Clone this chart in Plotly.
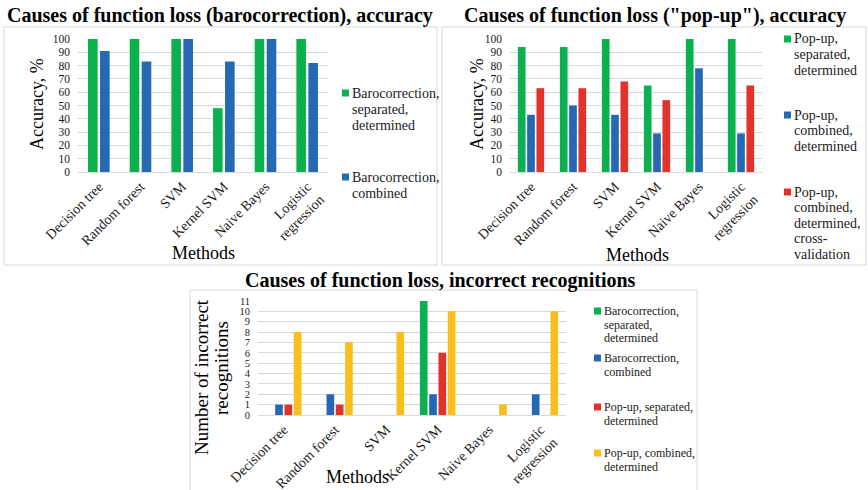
import plotly.graph_objects as go

W, H = 868, 490

# ---- data ----
methods = ["Decision tree", "Random forest", "SVM", "Kernel SVM",
           "Naive Bayes", "Logistic<br>regression"]

baro_sep_acc = [100, 100, 100, 48, 100, 100]
baro_comb_acc = [91, 83, 100, 83, 100, 82]

pop_sep_acc = [94, 94, 100, 65, 100, 100]
pop_comb_acc = [43, 50, 43, 29, 78, 29]
pop_cv_acc = [63, 63, 68, 54, None, 65]

baro_sep_err = [0, 0, 0, 11, 0, 0]
baro_comb_err = [1, 2, 0, 2, 0, 2]
pop_sep_err = [1, 1, 0, 6, 0, 0]
pop_comb_err = [8, 7, 8, 10, 1, 10]

acc_ticks = list(range(0, 101, 10))
err_ticks = list(range(0, 12))

titles = ["Causes of function loss (barocorrection), accuracy",
          "Causes of function loss (\"pop-up\"), accuracy",
          "Causes of function loss, incorrect recognitions"]

legend_tl = [["Barocorrection,", "separated,", "determined"],
             ["Barocorrection,", "combined"]]
legend_tr = [["Pop-up,", "separated,", "determined"],
             ["Pop-up,", "combined,", "determined"],
             ["Pop-up,", "combined,", "determined,", "cross-", "validation"]]
legend_bt = [["Barocorrection,", "separated,", "determined"],
             ["Barocorrection,", "combined"],
             ["Pop-up, separated,", "determined"],
             ["Pop-up, combined,", "determined"]]

# ---- style ----
GREEN = "#0BB14E"
BLUE = "#2469B2"
RED = "#E2322A"
YELLOW = "#FCBE1C"
GRID = "#D9D9D9"
FONT = "Liberation Serif"
TXT = "#1a1a1a"


def px(x):
    return x / W


def py(y):
    return 1 - y / H


fig = go.Figure()
shapes = []
annotations = []


def add_bars(series, colors, xa, ya, cat_px, slot_px, bar_px):
    n = len(series)
    s = slot_px / cat_px
    w = bar_px / cat_px
    for i, (vals, col) in enumerate(zip(series, colors)):
        off = -n * s / 2 + i * s + (s - w) / 2
        fig.add_trace(go.Bar(
            x=methods, y=vals, width=w, offset=off,
            marker=dict(color=col, line=dict(width=0)),
            xaxis=xa, yaxis=ya, showlegend=False,
        ))


def legend_entry(x_sq, y_c, lines, fs, color, lh):
    shapes.append(dict(type="rect", xref="paper", yref="paper",
                       x0=px(x_sq), x1=px(x_sq + 7),
                       y0=py(y_c + 3.5), y1=py(y_c - 3.5),
                       fillcolor=color, line=dict(width=0)))
    for k, line in enumerate(lines):
        annotations.append(dict(
            text=line, xref="paper", yref="paper",
            x=px(x_sq + 8), y=py(y_c + k * lh),
            xanchor="left", yanchor="middle", showarrow=False,
            font=dict(family=FONT, size=fs, color=TXT)))


def text(x, y, s, fs, bold=False, angle=0):
    annotations.append(dict(
        text=f"<b>{s}</b>" if bold else s, xref="paper", yref="paper",
        x=px(x), y=py(y), xanchor="center", yanchor="middle",
        showarrow=False, textangle=angle,
        font=dict(family=FONT, size=fs, color="#000")))


def box(x0, y0, x1, y1):
    shapes.append(dict(type="rect", xref="paper", yref="paper",
                       x0=px(x0), x1=px(x1), y0=py(y1), y1=py(y0),
                       line=dict(color=GRID, width=1), fillcolor="rgba(0,0,0,0)",
                       layer="below"))


# panel frames
box(4, 27, 437, 265)
box(442, 27, 866, 265)
box(190, 290, 697, 495)

# bars
add_bars([baro_sep_acc, baro_comb_acc], [GREEN, BLUE], "x", "y",
         250 / 6, 12, 9.6)
add_bars([pop_sep_acc, pop_comb_acc, pop_cv_acc], [GREEN, BLUE, RED], "x2", "y2",
         252 / 6, 9.3, 7.7)
add_bars([baro_sep_err, baro_comb_err, pop_sep_err, pop_comb_err],
         [GREEN, BLUE, RED, YELLOW], "x3", "y3", 308 / 6, 9.3, 7.7)


def xaxis(x0, x1, anchor):
    return dict(domain=[px(x0), px(x1)], anchor=anchor, type="category",
                range=[-0.5, 5.5], tickangle=-45, automargin=False,
                tickfont=dict(family=FONT, size=14, color=TXT),
                showline=True, linecolor=GRID, linewidth=1,
                ticks="", showgrid=False, zeroline=False, fixedrange=True)


def yaxis(y_top, y_bot, anchor, rng, tv, fs):
    return dict(domain=[py(y_bot), py(y_top)], anchor=anchor, range=rng,
                tickvals=tv, tickfont=dict(family=FONT, size=fs, color=TXT),
                showgrid=True, gridcolor=GRID, gridwidth=1, zeroline=False,
                showline=False, ticks="", ticklabelstandoff=7,
                automargin=False, fixedrange=True)


# titles and axis titles
text(220, 16, titles[0], 20, bold=True)
text(655, 16, titles[1], 20, bold=True)
text(440, 280, titles[2], 20, bold=True)

text(203, 253, "Methods", 18)
text(637, 255, "Methods", 18)
text(357, 477, "Methods", 18)

text(37, 104, "Accuracy, %", 18, angle=-90)
text(477, 104, "Accuracy, %", 18, angle=-90)
text(201, 377, "Number of incorrect", 19, angle=-90)
text(221, 368, "recognitions", 19, angle=-90)

# legends
for (yc, lines, col) in zip([93, 177], legend_tl, [GREEN, BLUE]):
    legend_entry(342, yc, lines, 14, col, 16.5)
for (yc, lines, col) in zip([39, 115, 192], legend_tr, [GREEN, BLUE, RED]):
    legend_entry(784, yc, lines, 14, col, 15.6)
for (yc, lines, col) in zip([311, 358, 407, 453], legend_bt,
                            [GREEN, BLUE, RED, YELLOW]):
    legend_entry(594, yc, lines, 12, col, 13.6)

fig.update_layout(
    width=W, height=H,
    margin=dict(l=0, r=0, t=0, b=0, autoexpand=False),
    paper_bgcolor="white", plot_bgcolor="white",
    barmode="group", showlegend=False,
    xaxis=xaxis(78, 328, "y"),
    yaxis=yaxis(39, 172, "x", [0, 100], acc_ticks, 11.5),
    xaxis2=xaxis(510, 762, "y2"),
    yaxis2=yaxis(39, 172, "x2", [0, 100], acc_ticks, 11.5),
    xaxis3=xaxis(258, 566, "y3"),
    yaxis3=yaxis(301, 415, "x3", [0, 11], err_ticks, 10.5),
    shapes=shapes,
    annotations=annotations,
)

fig.write_html("out.html", config={"displayModeBar": False})
